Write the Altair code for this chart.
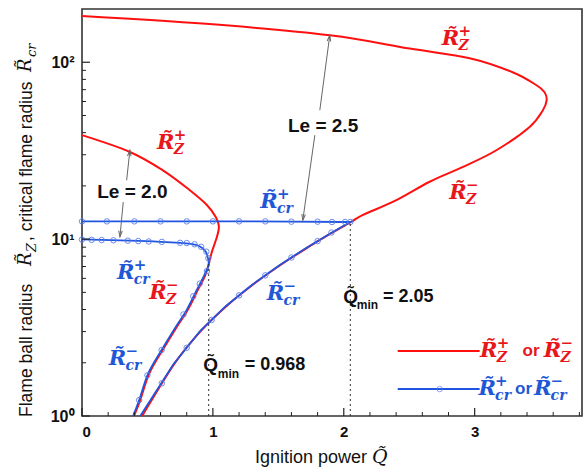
import altair as alt
import pandas as pd

# ---------------- data ----------------
# Le = 2.5 : flame-ball radius R_Z (upper branch -> turning point -> lower branch)
rz25_q = [0.0, 0.947, 1.893, 2.504, 2.962, 3.290, 3.473, 3.534, 3.550, 3.521, 3.420, 3.166,
          2.911, 2.656, 2.402, 2.147, 2.055, 1.905, 1.705, 1.505, 1.305, 1.105, 0.905, 0.705,
          0.460]
rz25_r = [182.7, 165.0, 142.1, 119.5, 105.3, 87.8, 74.1, 67.7, 61.0, 53.5, 43.1, 31.8,
          25.6, 21.1, 16.6, 13.7, 12.5, 10.8, 8.79, 7.05, 5.52, 4.19, 3.01, 1.97, 1.0]
# Le = 2.0 : flame-ball radius R_Z
rz20_q = [0.0, 0.366, 0.618, 0.824, 0.954, 1.023, 1.046, 1.031, 0.992, 0.970, 0.940, 0.884,
          0.807, 0.718, 0.616, 0.514, 0.445, 0.397]
rz20_r = [38.7, 31.1, 24.5, 18.9, 15.6, 13.3, 11.8, 10.3, 8.45, 7.3, 6.2, 5.15,
          3.97, 3.14, 2.36, 1.74, 1.23, 1.0]
# Le = 2.5 : critical radius R_cr (+ branch flat, - branch descending)
rcr25_q = [0.0, 0.4, 0.8, 1.2, 1.6, 2.0, 2.05, 1.90, 1.70, 1.50, 1.30, 1.10, 0.90, 0.70, 0.445]
rcr25_r = [12.6, 12.6, 12.6, 12.6, 12.55, 12.5, 12.5, 10.8, 8.79, 7.05, 5.52, 4.19, 3.01, 1.97, 1.0]
# Le = 2.0 : critical radius R_cr
rcr20_q = [0.0, 0.366, 0.748, 0.863, 0.916, 0.947, 0.962, 0.968, 0.964, 0.931, 0.876, 0.799,
           0.710, 0.608, 0.506, 0.437, 0.39]
rcr20_r = [9.96, 9.8, 9.53, 9.3, 8.95, 8.45, 7.81, 7.4, 6.97, 6.18, 5.15, 3.97,
           3.14, 2.36, 1.74, 1.23, 1.0]
# circle markers on the R_cr curves
mk25_q = [0.0, 0.19, 0.40, 0.60, 0.80, 1.0, 1.2, 1.4, 1.6, 1.8, 1.91, 2.01, 2.05,
          1.906, 1.80, 1.60, 1.40, 1.20, 0.99, 0.80, 0.61]
mk25_r = [12.6, 12.6, 12.6, 12.6, 12.6, 12.6, 12.6, 12.6, 12.55, 12.55, 12.5, 12.5, 12.5,
          10.9, 9.75, 7.87, 6.24, 4.81, 3.49, 2.43, 1.53]
mk20_q = [0.0, 0.074, 0.15, 0.24, 0.35, 0.43, 0.51, 0.61, 0.75, 0.80, 0.86, 0.91, 0.95, 0.965,
          0.955, 0.90, 0.85, 0.775, 0.608, 0.50, 0.437]
mk20_r = [9.95, 9.9, 9.88, 9.85, 9.8, 9.75, 9.7, 9.65, 9.53, 9.5, 9.35, 9.05, 8.5, 7.8,
          6.6, 5.6, 4.75, 3.75, 2.36, 1.70, 1.23]

# Q_min markers (dotted verticals)
qmin_q = [0.968, 2.05]
qmin_r = [7.4, 12.5]

# axis ticks
x_major = [0, 1, 2, 3]
x_minor = [0.2, 0.4, 0.6, 0.8, 1.2, 1.4, 1.6, 1.8, 2.2, 2.4, 2.6, 2.8, 3.2, 3.4, 3.6, 3.8]
y_major = [1, 10, 100]
y_minor = [2, 3, 4, 5, 6, 7, 8, 9, 20, 30, 40, 50, 60, 70, 80, 90]

# curve labels  R~ with superscript / subscript
lab_q = [2.815, 0.640, 2.873, 1.428, 1.479, 0.334, 0.580, 0.271, 3.107, 3.595, 3.095, 3.519]
lab_r = [134.9, 35.1, 18.3, 16.3, 4.89, 6.45, 4.95, 2.10, 2.33, 2.33, 1.42, 1.42]
lab_sup = ["+", "+", "\u2212", "+", "\u2212", "+", "\u2212", "\u2212", "+", "\u2212", "+", "\u2212"]
lab_sub = ["Z", "Z", "Z", "cr", "cr", "cr", "Z", "cr", "Z", "Z", "cr", "cr"]
lab_col = ["#e8161c"] * 3 + ["#1f57d6"] * 2 + ["#1f57d6", "#e8161c", "#1f57d6"] + ["#e8161c"] * 2 + ["#1f57d6"] * 2

# arrows: tail (q1,r1) -> head (q2,r2), head angle (deg)
arr_q1 = [1.817, 1.779, 0.341, 0.315]
arr_r1 = [53.6, 38.7, 21.5, 16.2]
arr_q2 = [1.893, 1.687, 0.366, 0.290]
arr_r2 = [142.0, 12.8, 31.8, 10.3]
arr_ang = [8, 188, 6, 185]

# legend
leg_q1 = [2.412, 2.412]
leg_q2 = [3.038, 3.038]
leg_r = [2.33, 1.42]
leg_mark_q = [2.733]

RED = "#ff1010"
BLUE = "#1f55e0"
MARK = "#5a80ea"
SANS = "Liberation Sans"
SERIF = "DejaVu Serif"


def frame(q, r):
    d = pd.DataFrame({"q": q, "r": r})
    d["i"] = range(len(d))
    return d


X = alt.X("q:Q", scale=alt.Scale(domain=[0, 3.82], nice=False),
          axis=alt.Axis(values=x_major, format="d", ticks=False, domain=False, grid=False,
                        labelFont=SANS, labelFontWeight="bold", labelFontSize=15,
                        labelColor="#111", labelPadding=8, title=None))
Y = alt.Y("r:Q", scale=alt.Scale(type="log", domain=[1, 200], nice=False),
          axis=alt.Axis(values=y_major, ticks=False, domain=False, grid=False,
                        labelExpr="datum.value == 1 ? '10\u2070' : datum.value == 10 ? '10\u00b9' : '10\u00b2'",
                        labelFont=SANS, labelFontWeight="bold", labelFontSize=16,
                        labelColor="#111", labelPadding=8, title=None))
Xq = alt.X("q:Q")
Yr = alt.Y("r:Q")

layers = []

# red flame-ball curves
for q, r in [(rz20_q, rz20_r), (rz25_q, rz25_r)]:
    layers.append(alt.Chart(frame(q, r)).mark_line(color=RED, strokeWidth=2, interpolate="cardinal")
                  .encode(x=X, y=Y, order="i:Q"))

# blue critical-radius curves
layers.append(alt.Chart(frame(rcr20_q, rcr20_r)).mark_line(color=BLUE, strokeWidth=1.8, interpolate="cardinal")
              .encode(x=Xq, y=Yr, order="i:Q"))
layers.append(alt.Chart(frame(rcr25_q, rcr25_r)).mark_line(color=BLUE, strokeWidth=1.8)
              .encode(x=Xq, y=Yr, order="i:Q"))

# markers
mk = pd.concat([frame(mk20_q, mk20_r), frame(mk25_q, mk25_r)])
layers.append(alt.Chart(mk).mark_point(shape="circle", filled=False, size=30, stroke=MARK,
                                       strokeWidth=1, opacity=0.9)
              .encode(x=Xq, y=Yr))

# dotted Q_min verticals
dq = pd.DataFrame({"q": qmin_q, "r": [1, 1], "r2": qmin_r})
layers.append(alt.Chart(dq).mark_rule(color="#333", strokeWidth=1, strokeDash=[2, 3])
              .encode(x=Xq, y=Yr, y2="r2:Q"))

# ticks (inward)
layers.append(alt.Chart(pd.DataFrame({"q": x_major})).mark_rule(color="#222", strokeWidth=1.2)
              .encode(x=Xq, y=alt.value(407), y2=alt.value(399)))
layers.append(alt.Chart(pd.DataFrame({"q": x_minor})).mark_rule(color="#222", strokeWidth=1)
              .encode(x=Xq, y=alt.value(407), y2=alt.value(403)))
layers.append(alt.Chart(pd.DataFrame({"r": y_major})).mark_rule(color="#222", strokeWidth=1.2)
              .encode(y=Yr, x=alt.value(0), x2=alt.value(8)))
layers.append(alt.Chart(pd.DataFrame({"r": y_minor})).mark_rule(color="#222", strokeWidth=1)
              .encode(y=Yr, x=alt.value(0), x2=alt.value(4)))

# arrows
ar = pd.DataFrame({"q": arr_q1, "r": arr_r1, "q2": arr_q2, "r2": arr_r2, "ang": arr_ang})
layers.append(alt.Chart(ar).mark_rule(color="#666", strokeWidth=1)
              .encode(x=Xq, y=Yr, x2="q2:Q", y2="r2:Q"))
layers.append(alt.Chart(ar).mark_point(shape="M -0.6 2 L 0 0 L 0.6 2", filled=False, size=36,
                                       stroke="#666", strokeWidth=1, opacity=1)
              .encode(x=alt.X("q2:Q"), y=alt.Y("r2:Q"), angle=alt.Angle("ang:Q", scale=None)))

# curve labels
lab = pd.DataFrame({"q": lab_q, "r": lab_r, "sup": lab_sup, "sub": lab_sub, "c": lab_col})
layers.append(alt.Chart(lab).mark_text(text="R\u0303", font=SERIF, fontStyle="italic", fontWeight="bold",
                                       fontSize=21, align="center", baseline="middle")
              .encode(x=Xq, y=Yr, color=alt.Color("c:N", scale=None)))
layers.append(alt.Chart(lab).mark_text(font=SERIF, fontStyle="italic", fontWeight="bold",
                                       fontSize=15, align="left", baseline="middle", dx=8, dy=-8)
              .encode(x=Xq, y=Yr, text="sup:N", color=alt.Color("c:N", scale=None)))
layers.append(alt.Chart(lab).mark_text(font=SERIF, fontStyle="italic", fontWeight="bold",
                                       fontSize=14, align="left", baseline="middle", dx=8, dy=7)
              .encode(x=Xq, y=Yr, text="sub:N", color=alt.Color("c:N", scale=None)))

# plain annotations
ann = pd.DataFrame({
    "q": [1.842, 0.385, 0.926, 1.038, 1.244, 1.995, 2.099, 2.30, 3.431, 3.374],
    "r": [43.8, 18.5, 1.94, 1.73, 1.94, 4.72, 4.24, 4.72, 2.33, 1.42],
    "t": ["Le = 2.5", "Le = 2.0", "Q\u0303", "min", "= 0.968", "Q\u0303", "min", "= 2.05", "or", "or"],
    "s": [19, 19, 19, 12, 18, 19, 12, 18, 17, 17],
    "c": ["#111"] * 8 + ["#e8161c", "#1f57d6"],
    "a": ["center", "center", "left", "left", "left", "left", "left", "left", "center", "center"],
})
for al in ["center", "left"]:
    layers.append(alt.Chart(ann[ann.a == al]).mark_text(font=SANS, fontWeight="bold", align=al, baseline="middle")
                  .encode(x=Xq, y=Yr, text="t:N", size=alt.Size("s:Q", scale=None),
                          color=alt.Color("c:N", scale=None)))

# legend lines
lg = pd.DataFrame({"q": leg_q1, "q2": leg_q2, "r": leg_r, "c": [RED, BLUE]})
layers.append(alt.Chart(lg).mark_rule(strokeWidth=2)
              .encode(x=Xq, x2="q2:Q", y=Yr, color=alt.Color("c:N", scale=None)))
layers.append(alt.Chart(pd.DataFrame({"q": leg_mark_q, "r": [leg_r[1]]}))
              .mark_point(shape="circle", filled=False, size=30, stroke=MARK, strokeWidth=1)
              .encode(x=Xq, y=Yr))

# axis titles built from text pieces (pixel offsets from the plot's top-left corner)
one = pd.DataFrame({"a": [0]})


def piece(txt, x, y, font, size, style="normal", angle=0, baseline="middle"):
    return alt.Chart(one).mark_text(text=txt, font=font, fontSize=size, fontStyle=style,
                                    align="left", baseline=baseline, angle=angle, color="#111") \
        .encode(x=alt.value(x), y=alt.value(y))


layers += [
    piece("Flame ball radius", -55, 408, SANS, 17.5, angle=270),
    piece("R\u0303", -56, 257, SERIF, 18, "italic", 270),
    piece("Z", -50, 243, SERIF, 13, "italic", 270),
    piece(", critical flame radius", -55, 232, SANS, 17.5, angle=270),
    piece("R\u0303", -56, 63, SERIF, 18, "italic", 270),
    piece("cr", -50, 48, SERIF, 13, "italic", 270),
    piece("Ignition power", 173, 454, SANS, 18, baseline="alphabetic"),
    piece("Q\u0303", 290, 454, SERIF, 19, "italic", baseline="alphabetic"),
]

chart = alt.layer(*layers).properties(
    width=500, height=407,
    padding={"left": 82, "top": 9, "right": 3, "bottom": 51},
    autosize=alt.AutoSizeParams(type="none"),
    background="white",
).configure_view(stroke="#333", strokeWidth=1.6)

chart.save("out.html", embed_options={"renderer": "svg", "actions": False})
